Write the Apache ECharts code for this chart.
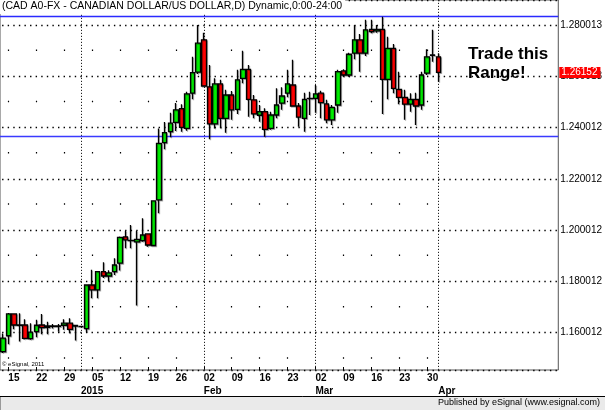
<!DOCTYPE html>
<html><head><meta charset="utf-8">
<script src="https://cdn.jsdelivr.net/npm/echarts/dist/echarts.min.js"></script>
<style>html,body{margin:0;padding:0;background:#fff}#c{width:605px;height:410px}</style>
</head><body><div id="c"></div>
<script>
const FONT = '"Liberation Sans", Arial, sans-serif';

const dates = [
 '2014-12-12','2014-12-15','2014-12-16','2014-12-17','2014-12-18','2014-12-19','2014-12-22','2014-12-23','2014-12-24','2014-12-25','2014-12-26','2014-12-29','2014-12-30','2014-12-31',
 '2015-01-01','2015-01-02','2015-01-05','2015-01-06','2015-01-07','2015-01-08','2015-01-09','2015-01-12','2015-01-13','2015-01-14','2015-01-15','2015-01-16','2015-01-19','2015-01-20','2015-01-21','2015-01-22','2015-01-23','2015-01-26','2015-01-27','2015-01-28','2015-01-29','2015-01-30',
 '2015-02-02','2015-02-03','2015-02-04','2015-02-05','2015-02-06','2015-02-09','2015-02-10','2015-02-11','2015-02-12','2015-02-13','2015-02-16','2015-02-17','2015-02-18','2015-02-19','2015-02-20','2015-02-23','2015-02-24','2015-02-25','2015-02-26','2015-02-27',
 '2015-03-02','2015-03-03','2015-03-04','2015-03-05','2015-03-06','2015-03-09','2015-03-10','2015-03-11','2015-03-12','2015-03-13','2015-03-16','2015-03-17','2015-03-18','2015-03-19','2015-03-20','2015-03-23','2015-03-24','2015-03-25','2015-03-26','2015-03-27','2015-03-30','2015-03-31',
 '2015-04-01'
];

const opens = [
 1.1526,1.1588,1.1673,1.1630,1.1630,1.1577,1.1604,1.1630,1.1621,1.1625,1.1626,1.1629,1.1637,1.1628,
 1.1624,1.1616,1.1786,1.1767,1.1838,1.1821,1.1838,1.1871,1.1974,1.1960,1.1954,1.1959,1.1985,1.1940,1.2118,1.2341,1.2384,1.2420,1.2474,1.2397,1.2534,1.2616,
 1.2742,1.2559,1.2414,1.2570,1.2436,1.2527,1.2471,1.2592,1.2627,1.2508,1.2448,1.2462,1.2397,1.2449,1.2495,1.2534,1.2566,1.2484,1.2436,1.2513,
 1.2514,1.2534,1.2492,1.2430,1.2488,1.2621,1.2605,1.2690,1.2742,1.2690,1.2783,1.2777,1.2783,1.2588,1.2709,1.2549,1.2518,1.2491,1.2510,1.2488,1.2612,1.2683,
 1.2676
];
const closes = [
 1.1579,1.1673,1.1630,1.1629,1.1578,1.1602,1.1629,1.1620,1.1626,1.1626,1.1625,1.1637,1.1613,1.1626,
 1.1624,1.1786,1.1767,1.1838,1.1821,1.1833,1.1864,1.1972,1.1962,1.1959,1.1964,1.1981,1.1942,1.2114,1.2338,1.2380,1.2417,1.2469,1.2401,1.2531,1.2614,1.2729,
 1.2562,1.2414,1.2570,1.2436,1.2527,1.2469,1.2586,1.2627,1.2510,1.2453,1.2462,1.2393,1.2449,1.2488,1.2523,1.2570,1.2484,1.2441,1.2510,1.2514,
 1.2531,1.2497,1.2430,1.2479,1.2618,1.2605,1.2686,1.2742,1.2690,1.2781,1.2774,1.2783,1.2588,1.2709,1.2553,1.2518,1.2491,1.2510,1.2484,1.2605,1.2676,1.2682,
 1.26152
];
const lows = [
 1.1521,1.1555,1.1613,1.1566,1.1574,1.1572,1.1582,1.1594,1.1594,1.1616,1.1604,1.1611,1.1598,1.1569,
 1.1622,1.1603,1.1734,1.1734,1.1813,1.1801,1.1825,1.1842,1.1929,1.1929,1.1706,1.1955,1.1935,1.1938,1.2066,1.2315,1.2362,1.2387,1.2384,1.2388,1.2510,1.2609,
 1.2559,1.2354,1.2396,1.2397,1.2380,1.2430,1.2453,1.2573,1.2442,1.2436,1.2423,1.2364,1.2391,1.2436,1.2469,1.2518,1.2481,1.2403,1.2384,1.2449,
 1.2458,1.2436,1.2417,1.2410,1.2458,1.2598,1.2598,1.2666,1.2618,1.2679,1.2768,1.2770,1.2453,1.2510,1.2534,1.2491,1.2430,1.2462,1.2410,1.2469,1.2605,1.2657,
 1.2579
];
const highs = [
 1.1597,1.1677,1.1676,1.1676,1.1652,1.1637,1.1650,1.1673,1.1643,1.1634,1.1634,1.1652,1.1656,1.1630,
 1.1626,1.1788,1.1845,1.1841,1.1875,1.1843,1.1890,1.1975,1.1998,1.2020,1.1998,1.2046,1.1987,1.2116,1.2396,1.2422,1.2458,1.2496,1.2491,1.2540,1.2676,1.2800,
 1.2770,1.2644,1.2592,1.2586,1.2547,1.2543,1.2625,1.2700,1.2644,1.2527,1.2488,1.2475,1.2462,1.2553,1.2557,1.2625,1.2664,1.2496,1.2536,1.2540,
 1.2566,1.2544,1.2508,1.2488,1.2625,1.2627,1.2692,1.2800,1.2765,1.2820,1.2820,1.2800,1.2832,1.2754,1.2726,1.2618,1.2547,1.2534,1.2536,1.2618,1.2705,1.2781,
 1.2690
];

const yTicks = [1.16, 1.18, 1.20, 1.22, 1.24, 1.26, 1.28];
const yTickLabels = ['1.160012','1.180012','1.200012','1.220012','1.240012','1.260013','1.280013'];
const rangeTop = 1.2835;
const rangeBottom = 1.2367;
const lastPrice = 1.26152;
const lastPriceLabel = '1.26152';
const monthLabels = {'01':'2015','02':'Feb','03':'Mar','04':'Apr'};
const titleText = '(CAD A0-FX - CANADIAN DOLLAR/US DOLLAR,D) Dynamic,0:00-24:00';

// layout: empty slots to the right of the last bar
const padCount = 21;
const slots = dates.concat(Array.from({length: padCount}, (_, k) => 'pad' + k));
const isReal = i => i < dates.length;
const isMonday = i => isReal(i) && new Date(dates[i] + 'T00:00:00Z').getUTCDay() === 1;
const isMonthStart = i => isReal(i) && i > 0 && dates[i].slice(5,7) !== dates[i-1].slice(5,7);

const candles = dates.map((d, i) => [opens[i], closes[i], lows[i], highs[i]]);

const gridLines = [];
dates.forEach((d, i) => {
  if (isMonthStart(i)) {
    gridLines.push({xAxis: i, lineStyle: {color: '#222', width: 1, type: [1.2, 1.8]}});
  } else if (isMonday(i)) {
    gridLines.push({xAxis: i, lineStyle: {color: '#000', width: 1.2, type: [1.5, 49.8], dashOffset: 40}});
  }
});
gridLines.push({yAxis: rangeTop, lineStyle: {color: '#2a2aff', width: 1.3, type: 'solid'}});
gridLines.push({yAxis: rangeBottom, lineStyle: {color: '#3a3aff', width: 1.3, type: 'solid'}});

const chart = echarts.init(document.getElementById('c'), null, {renderer: 'canvas'});
chart.setOption({
  animation: false,
  backgroundColor: '#fff',
  title: {
    text: titleText, left: 0, top: 0, padding: [1, 3, 2, 2],
    backgroundColor: '#fff',
    textStyle: {fontSize: 10.5, fontWeight: 'normal', color: '#000', fontFamily: FONT}
  },
  grid: {left: 0, top: 0, width: 559, height: 370, show: true, borderColor: '#555', borderWidth: 1},
  xAxis: [{
    type: 'category', data: slots, boundaryGap: true, position: 'bottom',
    axisLine: {show: false},
    axisTick: {show: true, inside: true, length: 3, alignWithLabel: true, interval: (i) => isMonday(i), lineStyle: {color: '#000'}},
    axisLabel: {interval: (i) => isMonday(i), formatter: v => v.slice(8), align: 'left', margin: 3,
                fontSize: 10, fontWeight: 'bold', color: '#000', fontFamily: FONT},
    splitLine: {show: false}
  }, {
    type: 'category', data: slots, boundaryGap: true, position: 'bottom', offset: 13,
    axisLine: {show: false}, axisTick: {show: false},
    axisLabel: {interval: (i) => isMonthStart(i), formatter: v => monthLabels[v.slice(5,7)] || '', align: 'left', margin: 3,
                fontSize: 10, fontWeight: 'bold', color: '#000', fontFamily: FONT},
    splitLine: {show: false}
  }],
  yAxis: {
    type: 'value', position: 'right', min: 1.14544, max: 1.28975,
    splitNumber: 7, minInterval: 0.02, maxInterval: 0.02,
    axisLine: {show: false}, axisTick: {show: false},
    axisLabel: {
      margin: 2, fontSize: 10, color: '#000', fontFamily: FONT, showMinLabel: false, showMaxLabel: false,
      formatter: v => { const k = yTicks.findIndex(t => Math.abs(t - v) < 1e-6); return k >= 0 ? yTickLabels[k] : ''; }
    },
    splitLine: {show: true, lineStyle: {color: '#000', width: 1.3, type: [1.4, 4.19], dashOffset: -2.1}}
  },
  series: [{
    type: 'line', data: [], z: 1, silent: true,
    markLine: {symbol: 'none', silent: true, z: 1, precision: 6, label: {show: false}, data: gridLines}
  }, {
    type: 'candlestick', data: candles, z: 3, barWidth: 5,
    itemStyle: {
      color: '#00ee00', color0: '#ff0000', borderColor: '#000', borderColor0: '#000', borderColorDoji: '#000', borderWidth: 1.3,
      shadowColor: 'rgba(0,0,0,0.3)', shadowOffsetX: 1, shadowOffsetY: 1, shadowBlur: 0
    },
    markLine: {
      symbol: 'none', silent: true, z: 6, precision: 6,
      data: [{yAxis: lastPrice, lineStyle: {color: 'rgba(0,0,0,0)', width: 0}}],
      label: {show: true, position: 'end', distance: 1, formatter: lastPriceLabel, color: '#fff', backgroundColor: '#ff0000',
              padding: [1, 3, 0, 2], fontSize: 10, fontFamily: FONT}
    }
  }],
  graphic: [
    {type: 'text', left: 468, top: 45, z: 10,
     style: {text: 'Trade this\nRange!', font: 'bold 17px ' + FONT, fill: '#000', lineHeight: 19}},
    {type: 'text', left: 2, top: 361, z: 10,
     style: {text: '\u00a9 eSignal, 2011', font: '6px ' + FONT, fill: '#000'}},
    {type: 'rect', left: 0, top: 396, z: 10, shape: {width: 605, height: 14}, style: {fill: '#eaeaea', stroke: '#999', lineWidth: 1}},
    {type: 'line', z: 11, shape: {x1: 0, y1: 396.5, x2: 605, y2: 396.5}, style: {stroke: '#000', lineWidth: 1}},
    {type: 'text', right: 5, top: 398, z: 12,
     style: {text: 'Published by eSignal (www.esignal.com)', font: '9px ' + FONT, fill: '#000'}}
  ]
});
</script></body></html>
